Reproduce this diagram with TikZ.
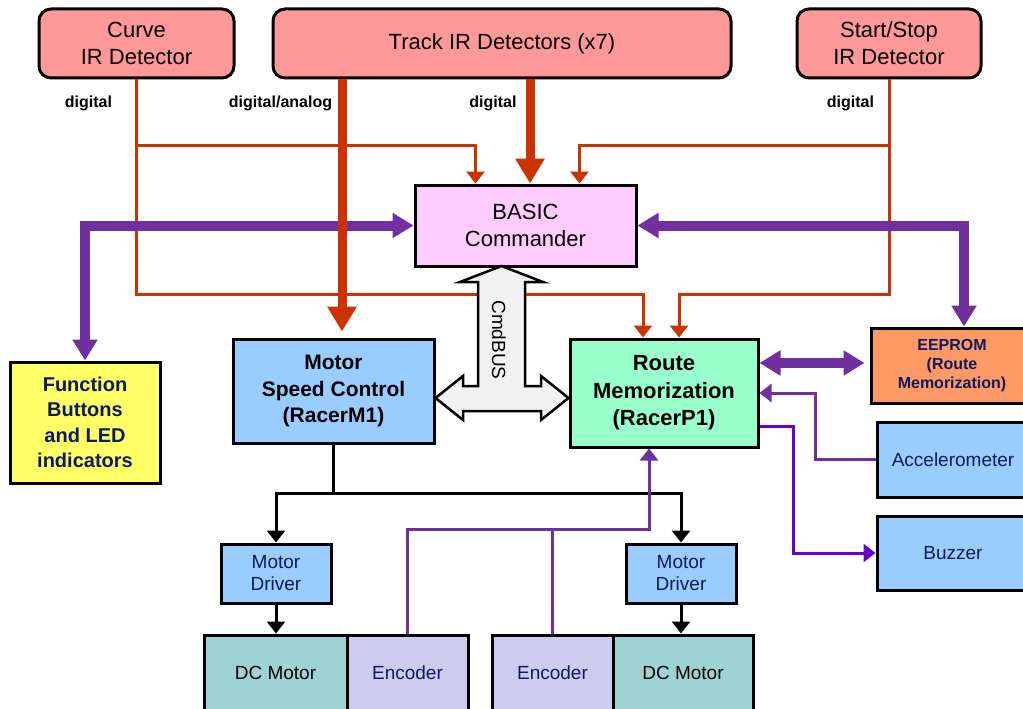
\documentclass[tikz,border=0pt]{standalone}
\usepackage{fontspec}
\setmainfont{Liberation Sans}
\usetikzlibrary{arrows.meta,calc}
\definecolor{irpink}{HTML}{FF9999}
\definecolor{basicpink}{HTML}{FFCCFF}
\definecolor{fnyellow}{HTML}{FFFF66}
\definecolor{ctlblue}{HTML}{99CCFF}
\definecolor{routegreen}{HTML}{99FFCC}
\definecolor{eeorange}{HTML}{FF9966}
\definecolor{motorteal}{HTML}{9FD3D3}
\definecolor{encviolet}{HTML}{CCCCEE}
\definecolor{navy}{HTML}{0D1B5E}
\definecolor{sigred}{HTML}{CC3300}
\definecolor{busviolet}{HTML}{7030A0}
\definecolor{buzzviolet}{HTML}{6600CC}
\definecolor{cmdgray}{HTML}{F2F2F2}
% boxes
\tikzset{irbox/.style={draw, line width=3pt, rounded corners=12pt, fill=irpink, inner sep=0pt, align=center, minimum height=69pt, font=\fontsize{22}{27}\selectfont}}
\tikzset{blk/.style={draw, line width=3pt, inner sep=0pt, align=center}}
\tikzset{small/.style={font=\fontsize{19}{22}\selectfont, text=navy}}
\tikzset{lbl/.style={font=\bfseries\fontsize{16}{18}\selectfont}}
% connectors
\tikzset{sig/.style={draw=sigred, line width=3pt, -{Triangle[length=12pt,width=18pt]}}}
\tikzset{trunk/.style={draw=sigred, line width=9pt, -{Triangle[length=25pt,width=28pt]}}}
\tikzset{pbus/.style={draw=busviolet, line width=10pt, {Triangle[length=21pt,width=24pt]}-{Triangle[length=21pt,width=24pt]}}}
\tikzset{pline/.style={draw=busviolet, line width=3pt}}
\tikzset{ctl/.style={draw=black, line width=3pt}}
\tikzset{tipsmall/.style={-{Triangle[length=12pt,width=18pt]}}}

\begin{document}
\begin{tikzpicture}[x=1pt,y=-1pt]
	\useasboundingbox (0,0) rectangle (1023,709);

	\node[irbox, minimum width=195pt] (curve) at (136.5,43.5) {Curve\\IR Detector};
	\node[irbox, minimum width=458pt] (track) at (502,43.5) {Track IR Detectors (x7)};
	\node[irbox, minimum width=184pt] (start) at (889,43.5) {Start/Stop\\IR Detector};

	\node[lbl] (lcurve) at (88.5,103) {digital};
	\node[lbl] (ltrack1) at (280.5,103) {digital/analog};
	\node[lbl] (ltrack2) at (493,103) {digital};
	\node[lbl] (lstart) at (850.5,103) {digital};

	\node[blk, fill=basicpink, minimum width=221pt, minimum height=81pt, font=\fontsize{22}{27}\selectfont] (basic) at (525.5,225.5) {BASIC\\Commander};
	\node[blk, fill=fnyellow, minimum width=150pt, minimum height=121pt, text=navy, font=\bfseries\fontsize{20}{25.5}\selectfont] (func) at (85,422.5) {Function\\Buttons\\and LED\\indicators};
	\node[blk, fill=ctlblue, minimum width=201pt, minimum height=104pt, font=\bfseries\fontsize{21}{26.5}\selectfont] (msc) at (333.5,391) {Motor\\Speed Control\\(RacerM1)};
	\node[blk, fill=routegreen, minimum width=188pt, minimum height=108pt, font=\bfseries\fontsize{22}{27.5}\selectfont] (route) at (664,393) {Route\\Memorization\\(RacerP1)};
	\node[blk, fill=eeorange, minimum width=162pt, minimum height=75pt, text=navy, font=\bfseries\fontsize{16}{19}\selectfont] (eeprom) at (952,365.5) {EEPROM\\(Route\\Memorization)};
	\node[blk, small, fill=ctlblue, minimum width=152pt, minimum height=75pt] (acc) at (953,459.5) {Accelerometer};
	\node[blk, small, fill=ctlblue, minimum width=152pt, minimum height=74pt] (buzz) at (953,553) {Buzzer};

	\node[blk, small, fill=ctlblue, minimum width=110pt, minimum height=59pt] (drv1) at (276,573.5) {Motor\\Driver};
	\node[blk, small, fill=ctlblue, minimum width=110pt, minimum height=59pt] (drv2) at (681,573.5) {Motor\\Driver};
	\node[blk, small, text=black, fill=motorteal, minimum width=143pt, minimum height=76pt] (dc1) at (275.5,673) {DC Motor};
	\node[blk, small, fill=encviolet, minimum width=121pt, minimum height=76pt] (enc1) at (407.5,673) {Encoder};
	\node[blk, small, fill=encviolet, minimum width=121pt, minimum height=76pt] (enc2) at (552.5,673) {Encoder};
	\node[blk, small, text=black, fill=motorteal, minimum width=140pt, minimum height=76pt] (dc2) at (683,673) {DC Motor};

	% digital lines from the two side detectors
	\draw[sig] (curve.south) -- (curve.south |- 0,294) -| ([xshift=-21pt]route.north);
	\draw[sig] (curve.south |- 0,145) -| ([xshift=-50pt]basic.north);
	\draw[sig] (start.south) -- (start.south |- 0,294) -| ([xshift=15pt]route.north);
	\draw[sig] (start.south |- 0,145) -| ([xshift=54pt]basic.north);

	\draw[pbus] (func.north) |- (basic.west);
	\draw[pbus] (basic.east) -| ([xshift=12pt]eeprom.north);
	\draw[pbus] ([yshift=30pt]route.east) -- ([yshift=30pt,xshift=-5pt]route.east -| eeprom.west);

	\draw[trunk] ([xshift=-160pt]track.south) -- ([xshift=-160pt,yshift=6pt]track.south |- msc.north);
	\draw[trunk] ([xshift=28pt]track.south) -- ([xshift=28pt]track.south |- basic.north);

	% CmdBUS
	\draw[line width=2.5pt, fill=cmdgray, line join=miter] (501.5,266) -- (543,282) -- (525,282) -- (525,386) -- (541,386) -- (541,376)
		-- (route.west |- 0,398) -- (541,420) -- (541,411) -- (463,411) -- (463,420) -- (msc.east |- 0,398)
		-- (463,376) -- (463,386) -- (478,386) -- (478,282) -- (460,282) -- cycle;
	\node[rotate=-90, font=\fontsize{19}{22}\selectfont] (cmdbus) at (499,340) {CmdBUS};

	\draw[ctl, tipsmall] (msc.south) -- (msc.south |- 0,493) -| (drv1.north);
	\draw[ctl, tipsmall] (msc.south |- 0,493) -| (drv2.north);
	\draw[ctl, tipsmall] (drv1.south) -- (drv1.south |- dc1.north);
	\draw[ctl, tipsmall] (drv2.south) -- (drv2.south |- dc2.north);

	\draw[pline, tipsmall] (enc1.north) -- (enc1.north |- 0,529) -| ([xshift=-15pt]route.south);
	\draw[pline] (enc2.north) -- (enc2.north |- 0,529);
	\draw[pline, tipsmall] (acc.west) -- ++(-60pt,0) |- (route.east);
	\draw[pline, draw=buzzviolet, tipsmall] ([yshift=-33pt]route.east) -- ++(34pt,0) |- (buzz.west);

\end{tikzpicture}
\end{document}
